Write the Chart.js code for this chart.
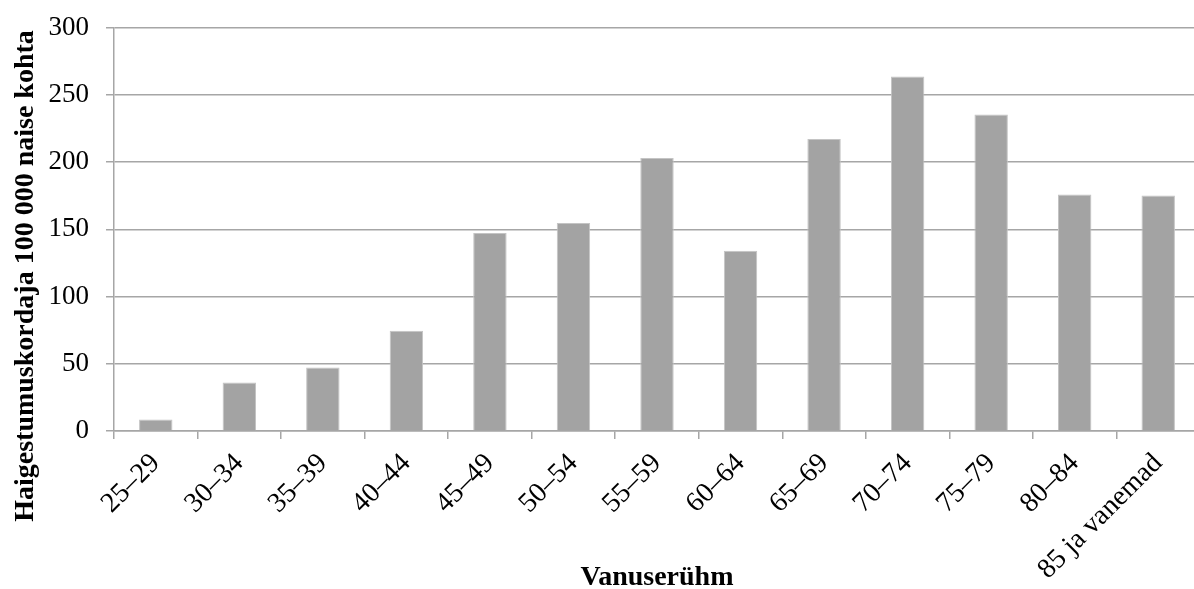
<!DOCTYPE html>
<html>
<head>
<meta charset="utf-8">
<script src="https://cdn.jsdelivr.net/npm/chart.js@4/dist/chart.umd.min.js"></script>
<style>
  html, body { margin: 0; padding: 0; background: #fff; overflow: hidden; }
  #wrap { width: 1200px; height: 589px; position: relative; }
</style>
</head>
<body>
<div id="wrap"><canvas id="c"></canvas></div>
<script>
// Age groups (x axis)
const ageGroups = ['25–29', '30–34', '35–39', '40–44', '45–49', '50–54', '55–59',
                   '60–64', '65–69', '70–74', '75–79', '80–84', '85 ja vanemad'];
// Incidence per 100 000 women
const incidence = [8.5, 36, 47.3, 74.6, 147.4, 154.8, 203.1, 134.2, 217.2, 263.7, 235.5, 175.9, 175.3];
// Value axis ticks
const yTicks = [0, 50, 100, 150, 200, 250, 300];

const yTitle = 'Haigestumuskordaja 100 000 naise kohta';
const xTitle = 'Vanuserühm';

const gridGray = '#a6a6a6';
const serif = '"Liberation Serif", "Times New Roman", serif';

// Rotated value-axis title, placed to the left of the tick labels
const yTitlePlugin = {
  id: 'yTitle',
  afterDraw(chart) {
    const ctx = chart.ctx;
    ctx.save();
    ctx.translate(33, 276);
    ctx.rotate(-Math.PI / 2);
    ctx.font = 'bold 28px ' + serif;
    ctx.fillStyle = '#000';
    ctx.textAlign = 'center';
    ctx.textBaseline = 'alphabetic';
    ctx.fillText(yTitle, 0, 0);
    ctx.restore();
  }
};

new Chart(document.getElementById('c'), {
  type: 'bar',
  data: {
    labels: ageGroups,
    datasets: [{
      data: incidence,
      backgroundColor: '#a3a3a3',
      borderColor: '#c4c4c4',
      borderWidth: 1,
      barPercentage: 0.4,
      categoryPercentage: 1.0
    }]
  },
  options: {
    responsive: true,
    maintainAspectRatio: false,
    animation: false,
    layout: { padding: { top: 27, left: 0, right: 0, bottom: 0 } },
    plugins: { legend: { display: false }, tooltip: { enabled: false } },
    scales: {
      x: {
        offset: true,
        grid: {
          offset: true,
          drawOnChartArea: false,
          drawTicks: true,
          tickLength: 8,
          color: gridGray,
          lineWidth: 1.5
        },
        border: { color: gridGray, width: 1.5 },
        ticks: {
          color: '#000',
          font: { family: serif, size: 28 },
          maxRotation: 45,
          minRotation: 45,
          autoSkip: false,
          padding: 8
        },
        title: {
          display: true,
          text: xTitle,
          color: '#000',
          font: { family: serif, size: 28, weight: 'bold', lineHeight: 0.8 },
          padding: 0
        },
        afterFit(scale) { scale.height = 158; }
      },
      y: {
        min: 0,
        max: 300,
        afterBuildTicks(scale) { scale.ticks = yTicks.map(v => ({ value: v })); },
        grid: {
          drawTicks: true,
          tickLength: 8,
          color: gridGray,
          lineWidth: 1.5
        },
        border: { color: gridGray, width: 1.5 },
        ticks: {
          color: '#000',
          font: { family: serif, size: 27, lineHeight: 0.8 },
          padding: 17
        },
        afterFit(scale) { scale.width = 114; }
      }
    }
  },
  plugins: [yTitlePlugin]
});
</script>
</body>
</html>
